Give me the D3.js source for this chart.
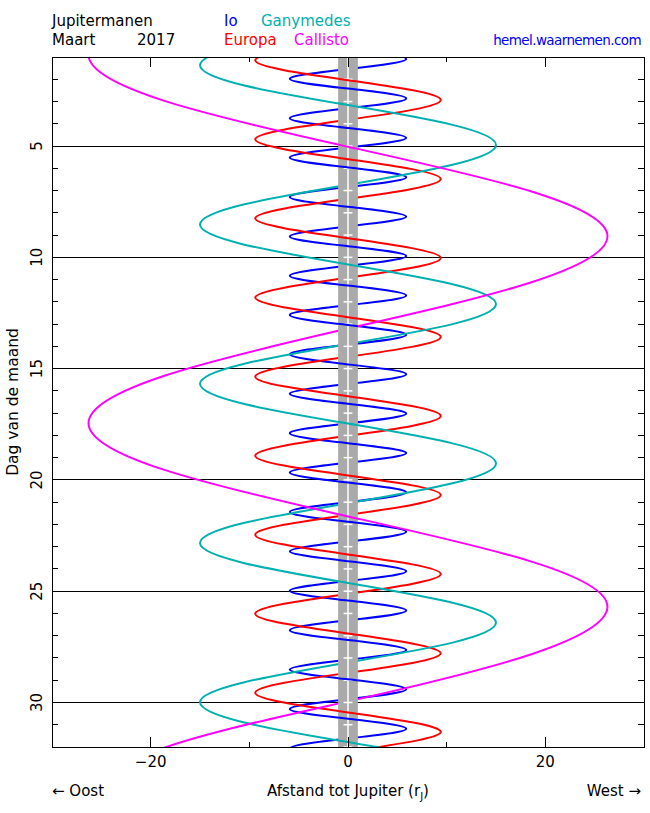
<!DOCTYPE html>
<html><head><meta charset="utf-8">
<script src="https://cdn.jsdelivr.net/npm/d3@7"></script>
<style>
body{margin:0;background:#fff}
svg{display:block}
text{font-family:"DejaVu Sans",sans-serif;}
</style>
</head><body>
<svg id="chart" width="650" height="813"></svg>
<script>
// ---------- data (day of month, distance in Jupiter radii; + = West) ----------
const ioDays = [0.65,1.09,1.54,1.98, 2.42,2.86,3.30,3.75, 4.19,4.63,5.07,5.52, 5.96,6.40,6.84,7.29,
  7.73,8.17,8.61,9.06, 9.50,9.94,10.38,10.83, 11.27,11.71,12.15,12.59, 13.04,13.48,13.92,14.36,
  14.81,15.25,15.69,16.13, 16.58,17.02,17.46,17.90, 18.35,18.79,19.23,19.67, 20.12,20.56,21.00,21.44,
  21.88,22.33,22.77,23.21, 23.65,24.10,24.54,24.98, 25.42,25.87,26.31,26.75, 27.19,27.64,28.08,28.52,
  28.96,29.41,29.85,30.29, 30.73,31.18,31.62,32.06, 32.50];
const ioX = [0,5.9,0,-5.9, 0,5.9,0,-5.9, 0,5.9,0,-5.9, 0,5.9,0,-5.9,
  0,5.9,0,-5.9, 0,5.9,0,-5.9, 0,5.9,0,-5.9, 0,5.9,0,-5.9,
  0,5.9,0,-5.9, 0,5.9,0,-5.9, 0,5.9,0,-5.9, 0,5.9,0,-5.9,
  0,5.9,0,-5.9, 0,5.9,0,-5.9, 0,5.9,0,-5.9, 0,5.9,0,-5.9,
  0,5.9,0,-5.9, 0,5.9,0,-5.9, 0];

const europaDays = [-1.51,-0.62,0.26,1.15, 2.04,2.93,3.82,4.70, 5.59,6.48,7.37,8.25, 9.14,10.03,10.92,11.81,
  12.69,13.58,14.47,15.36, 16.24,17.13,18.02,18.91, 19.80,20.68,21.57,22.46, 23.35,24.23,25.12,26.01,
  26.90,27.79,28.67,29.56, 30.45,31.34,32.22,33.11];
const europaX = [0,9.4,0,-9.4, 0,9.4,0,-9.4, 0,9.4,0,-9.4, 0,9.4,0,-9.4,
  0,9.4,0,-9.4, 0,9.4,0,-9.4, 0,9.4,0,-9.4, 0,9.4,0,-9.4,
  0,9.4,0,-9.4, 0,9.4,0,-9.4];

const ganymedesDays = [-4.00,-3.10,-2.21,-1.31,-0.42,0.48,1.37,2.27,
  3.16,4.05,4.95,5.84,6.74,7.63,8.53,9.42,
  10.32,11.21,12.10,13.00,13.89,14.79,15.68,16.58,
  17.47,18.36,19.26,20.15,21.05,21.94,22.84,23.73,
  24.63,25.52,26.41,27.31,28.20,29.10,29.99,30.89,
  31.78,32.67,33.57];
const ganymedesX = [0,10.6,15,10.6,0,-10.6,-15,-10.6,
  0,10.6,15,10.6,0,-10.6,-15,-10.6,
  0,10.6,15,10.6,0,-10.6,-15,-10.6,
  0,10.6,15,10.6,0,-10.6,-15,-10.6,
  0,10.6,15,10.6,0,-10.6,-15,-10.6,
  0,10.6,15];

const callistoDays = [-3.25,-1.17,0.90,2.97,5.03,7.04,9.05,11.12,13.20,15.32,17.45,19.55,
  21.64,23.67,25.70,27.83,29.95,32.03,34.10];
const callistoX = [0,-18.6,-26.3,-18.6,0,18.6,26.3,18.6,0,-18.6,-26.3,-18.6,
  0,18.6,26.3,18.6,0,-18.6,-26.3];

const moonNames = ["Io","Europa","Ganymedes","Callisto"];
const moonColors = ["#0000ff","#ff0000","#00b0b0","#ff00ff"];

const xDomain = [-30, 30];
const yDomain = [1, 32];
const xMajorTicks = [-20, 0, 20];
const xMinorTicks = [-10, 10];
const xTickLabels = ["\u221220", "0", "20"];
const yLabelTicks = [5, 10, 15, 20, 25, 30];
const yMinorTicks = d3.range(2, 32);
const jupiterRadius = [-1, 1];

// ---------- drawing ----------
const svg = d3.select("#chart");
const X0 = 52, X1 = 644, Y0 = 57, Y1 = 747;
const x = d3.scaleLinear().domain(xDomain).range([X0, X1]);
const y = d3.scaleLinear().domain(yDomain).range([Y0, Y1]);

const defs = svg.append("defs");
defs.append("clipPath").attr("id","plotclip").append("rect")
  .attr("x",X0).attr("y",Y0).attr("width",X1-X0).attr("height",Y1-Y0);

// grid lines at labelled days
svg.append("g").selectAll("line").data(yLabelTicks).join("line")
  .attr("x1",X0).attr("x2",X1).attr("y1",d=>y(d)).attr("y2",d=>y(d))
  .attr("stroke","#000").attr("stroke-width",1).attr("shape-rendering","crispEdges");

const moons = [
  {days: ioDays, xs: ioX},
  {days: europaDays, xs: europaX},
  {days: ganymedesDays, xs: ganymedesX},
  {days: callistoDays, xs: callistoX}
];
const line = d3.line().x(d=>x(d[1])).y(d=>y(d[0])).curve(d3.curveNatural);

const gCurves = svg.append("g").attr("clip-path","url(#plotclip)");
moons.forEach((m,i)=>{
  const pts = m.days.map((d,k)=>[d, m.xs[k]]);
  m.pts = pts;
  gCurves.append("path").attr("d",line(pts)).attr("fill","none")
    .attr("stroke",moonColors[i]).attr("stroke-width",2);
});

// Jupiter band
svg.append("rect").attr("x",x(jupiterRadius[0])).attr("y",Y0)
  .attr("width",x(jupiterRadius[1])-x(jupiterRadius[0])).attr("height",Y1-Y0)
  .attr("fill","#aaaaaa");
svg.append("line").attr("x1",x(0)).attr("x2",x(0)).attr("y1",Y0).attr("y2",Y1)
  .attr("stroke","#fff").attr("stroke-width",1.5);
svg.append("g").selectAll("line").data(d3.range(1,33)).join("line")
  .attr("x1",x(-0.45)).attr("x2",x(0.45)).attr("y1",d=>y(d)).attr("y2",d=>y(d))
  .attr("stroke","#fff").attr("stroke-width",1.5);

// moons passing in front of Jupiter (moving West) drawn over the band
moons.forEach((m,i)=>{
  const cp = defs.append("clipPath").attr("id","front"+i);
  for (let k=1; k<m.pts.length-1; k++){
    if (m.pts[k][1]===0 && m.pts[k+1][1]>0){
      const t0 = m.pts[k-1][0], t1 = m.pts[k+1][0];
      cp.append("rect").attr("x",x(jupiterRadius[0])).attr("width",x(jupiterRadius[1])-x(jupiterRadius[0]))
        .attr("y",Math.max(Y0,y(t0))).attr("height",Math.max(0,Math.min(Y1,y(t1))-Math.max(Y0,y(t0))));
    }
  }
  svg.append("g").attr("clip-path","url(#front"+i+")")
    .append("path").attr("d",line(m.pts)).attr("fill","none")
    .attr("stroke",moonColors[i]).attr("stroke-width",2);
});

// frame
svg.append("rect").attr("x",X0).attr("y",Y0).attr("width",X1-X0).attr("height",Y1-Y0)
  .attr("fill","none").attr("stroke","#000").attr("stroke-width",1).attr("shape-rendering","crispEdges");

// ticks
const tk = svg.append("g").attr("stroke","#000").attr("stroke-width",1).attr("shape-rendering","crispEdges");
yMinorTicks.forEach(d=>{
  tk.append("line").attr("x1",X0).attr("x2",X0+6).attr("y1",y(d)).attr("y2",y(d));
  tk.append("line").attr("x1",X1-6).attr("x2",X1).attr("y1",y(d)).attr("y2",y(d));
});
xMajorTicks.forEach(d=>{
  tk.append("line").attr("x1",x(d)).attr("x2",x(d)).attr("y1",Y1).attr("y2",Y1-10);
  tk.append("line").attr("x1",x(d)).attr("x2",x(d)).attr("y1",Y0).attr("y2",Y0+10);
});
xMinorTicks.forEach(d=>{
  tk.append("line").attr("x1",x(d)).attr("x2",x(d)).attr("y1",Y1).attr("y2",Y1-5);
  tk.append("line").attr("x1",x(d)).attr("x2",x(d)).attr("y1",Y0).attr("y2",Y0+5);
});

// tick labels
svg.append("g").selectAll("text").data(xMajorTicks).join("text")
  .attr("x",d=>x(d)).attr("y",767).attr("text-anchor","middle")
  .attr("font-size",15).text((d,i)=>xTickLabels[i]);
svg.append("g").selectAll("text").data(yLabelTicks).join("text")
  .attr("transform",d=>`translate(42,${y(d)}) rotate(-90)`).attr("text-anchor","middle")
  .attr("font-size",15).text(d=>d);

svg.append("text").attr("transform",`translate(18,${(Y0+Y1)/2}) rotate(-90)`)
  .attr("text-anchor","middle").attr("font-size",15.5).text("Dag van de maand");

// footer
svg.append("text").attr("x",52).attr("y",796).attr("font-size",15).text("\u2190 Oost");
svg.append("text").attr("x",641).attr("y",796).attr("font-size",15).attr("text-anchor","end").text("West \u2192");
const ax = svg.append("text").attr("x",348).attr("y",796).attr("font-size",15).attr("text-anchor","middle");
ax.append("tspan").text("Afstand tot Jupiter (r");
ax.append("tspan").attr("font-size",10).attr("dy",4).text("J");
ax.append("tspan").attr("dy",-4).text(")");

// header
const hdr = [
  {t:"Jupitermanen", x:52, y:26, c:"#000"},
  {t:"Maart", x:52, y:45, c:"#000"},
  {t:"2017", x:137, y:45, c:"#000"},
  {t:moonNames[0], x:224, y:26, c:moonColors[0]},
  {t:moonNames[2], x:261, y:26, c:moonColors[2]},
  {t:moonNames[1], x:224, y:45, c:moonColors[1]},
  {t:moonNames[3], x:294, y:45, c:moonColors[3]}
];
svg.append("g").selectAll("text").data(hdr).join("text")
  .attr("x",d=>d.x).attr("y",d=>d.y).attr("fill",d=>d.c).attr("font-size",15).text(d=>d.t);
svg.append("text").attr("x",641).attr("y",45).attr("text-anchor","end").attr("fill","#0000ff")
  .attr("font-size",13.5).attr("letter-spacing",-0.6).text("hemel.waarnemen.com");
</script>
</body></html>
